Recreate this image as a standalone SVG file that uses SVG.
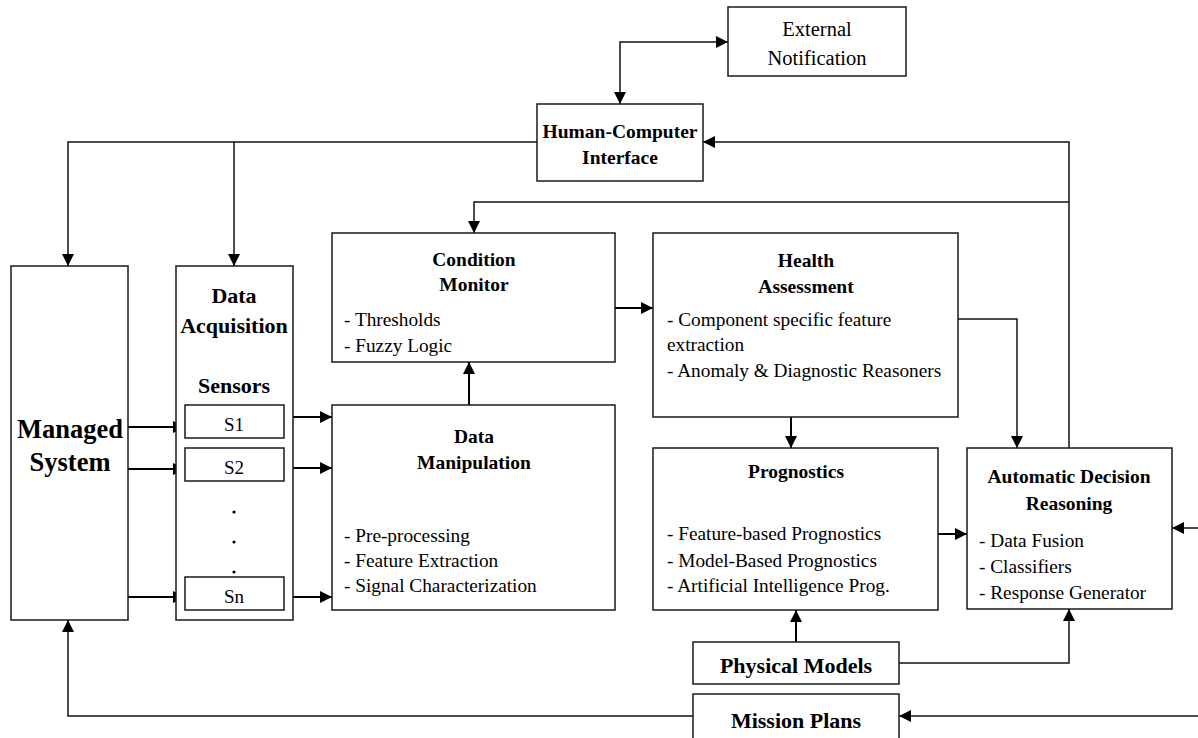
<svg xmlns="http://www.w3.org/2000/svg" width="1198" height="738" viewBox="0 0 1198 738">
<style>
.box{fill:#fff;stroke:#1a1a1a;stroke-width:1.5}
.sbox{fill:#fff;stroke:#1a1a1a;stroke-width:1.5}
.ln{fill:none;stroke:#111;stroke-width:1.5}
.ar{fill:none;stroke:#000;stroke-width:2}
.t{font-family:"Liberation Serif","Times New Roman",serif;fill:#000}
.b{font-weight:bold;font-size:19.5px;text-anchor:middle}
.r{font-size:19.3px}
.c{text-anchor:middle}
</style>
<defs>
<marker id="ah" markerUnits="userSpaceOnUse" markerWidth="12" markerHeight="12" refX="12" refY="6" orient="auto-start-reverse">
<path d="M0,0 L12,6 L0,12 z" fill="#000"/>
</marker>
</defs>
<rect width="1198" height="738" fill="#fff"/>

<g id="connectors">
<path class="ln" d="M620,104 V42 H728" marker-start="url(#ah)" marker-end="url(#ah)"/>
<path class="ln" d="M1069,448 V142 H703" marker-end="url(#ah)"/>
<path class="ln" d="M537,142 H68 V266" marker-end="url(#ah)"/>
<path class="ln" d="M234,142 V266" marker-end="url(#ah)"/>
<path class="ln" d="M1069,202 H474 V233" marker-end="url(#ah)"/>
<path class="ar" d="M469,405 V362" marker-end="url(#ah)"/>
<path class="ar" d="M615,308 H653" marker-end="url(#ah)"/>
<path class="ln" d="M958,319 H1017 V448" marker-end="url(#ah)"/>
<path class="ar" d="M791,417 V448" marker-end="url(#ah)"/>
<path class="ar" d="M938,534 H967" marker-end="url(#ah)"/>
<path class="ln" d="M1198,528 H1172" marker-end="url(#ah)"/>
<path class="ar" d="M796,642 V610" marker-end="url(#ah)"/>
<path class="ln" d="M899,663 H1069 V609" marker-end="url(#ah)"/>
<path class="ln" d="M1198,716 H899" marker-end="url(#ah)"/>
<path class="ln" d="M693,716 H68 V620" marker-end="url(#ah)"/>
<path class="ar" d="M128,427 H185" marker-end="url(#ah)"/>
<path class="ar" d="M128,469 H185" marker-end="url(#ah)"/>
<path class="ar" d="M128,597 H185" marker-end="url(#ah)"/>
<path class="ar" d="M284,417 H332" marker-end="url(#ah)"/>
<path class="ar" d="M284,468 H332" marker-end="url(#ah)"/>
<path class="ar" d="M284,597 H332" marker-end="url(#ah)"/>
</g>

<g id="external-notification">
<rect class="box" x="728" y="7" width="178" height="69"/>
<text class="t c" x="817" y="36" font-size="20.5">External</text>
<text class="t c" x="817" y="65" font-size="20.5">Notification</text>
</g>

<g id="hci">
<rect class="box" x="537" y="104" width="166" height="77"/>
<text class="t b" x="620" y="138">Human-Computer</text>
<text class="t b" x="620" y="164">Interface</text>
</g>

<g id="managed-system">
<rect class="box" x="11" y="266" width="117" height="354"/>
<text class="t c" x="70" y="438" font-size="26.5" font-weight="bold">Managed</text>
<text class="t c" x="70" y="471" font-size="26.5" font-weight="bold">System</text>
</g>

<g id="data-acquisition">
<rect class="box" x="176" y="266" width="117" height="354"/>
<text class="t c" x="234" y="303" font-size="22" font-weight="bold">Data</text>
<text class="t c" x="234" y="333" font-size="22" font-weight="bold">Acquisition</text>
<text class="t c" x="234" y="393" font-size="22" font-weight="bold">Sensors</text>
<circle cx="234" cy="512" r="1.6" fill="#000"/>
<circle cx="234" cy="542" r="1.6" fill="#000"/>
<circle cx="234" cy="572" r="1.6" fill="#000"/>
</g>

<g id="s1">
<rect class="sbox" x="185" y="405" width="99" height="33"/>
<text class="t c" x="234" y="431" font-size="19">S1</text>
</g>
<g id="s2">
<rect class="sbox" x="185" y="448" width="99" height="33"/>
<text class="t c" x="234" y="474" font-size="19">S2</text>
</g>
<g id="sn">
<rect class="sbox" x="185" y="577" width="99" height="33"/>
<text class="t c" x="234" y="603" font-size="19">Sn</text>
</g>

<g id="condition-monitor">
<rect class="box" x="332" y="233" width="283" height="129"/>
<text class="t b" x="474" y="266">Condition</text>
<text class="t b" x="474" y="291">Monitor</text>
<text class="t r" x="344" y="326">- Thresholds</text>
<text class="t r" x="344" y="352">- Fuzzy Logic</text>
</g>

<g id="data-manipulation">
<rect class="box" x="332" y="405" width="283" height="205"/>
<text class="t b" x="474" y="443">Data</text>
<text class="t b" x="474" y="469">Manipulation</text>
<text class="t r" x="344" y="542">- Pre-processing</text>
<text class="t r" x="344" y="567">- Feature Extraction</text>
<text class="t r" x="344" y="592">- Signal Characterization</text>
</g>

<g id="health-assessment">
<rect class="box" x="653" y="233" width="305" height="184"/>
<text class="t b" x="806" y="267">Health</text>
<text class="t b" x="806" y="293">Assessment</text>
<text class="t r" x="667" y="326">- Component specific feature</text>
<text class="t r" x="667" y="351">extraction</text>
<text class="t r" x="667" y="377">- Anomaly &amp; Diagnostic Reasoners</text>
</g>

<g id="prognostics">
<rect class="box" x="653" y="448" width="285" height="162"/>
<text class="t b" x="796" y="478">Prognostics</text>
<text class="t r" x="667" y="540">- Feature-based Prognostics</text>
<text class="t r" x="667" y="567">- Model-Based Prognostics</text>
<text class="t r" x="667" y="592">- Artificial Intelligence Prog.</text>
</g>

<g id="automatic-decision-reasoning">
<rect class="box" x="967" y="448" width="205" height="161"/>
<text class="t b" x="1069" y="483">Automatic Decision</text>
<text class="t b" x="1069" y="510">Reasoning</text>
<text class="t r" x="979" y="547">- Data Fusion</text>
<text class="t r" x="979" y="573">- Classifiers</text>
<text class="t r" x="979" y="599">- Response Generator</text>
</g>

<g id="physical-models">
<rect class="box" x="693" y="642" width="206" height="42"/>
<text class="t c" x="796" y="673" font-size="22" font-weight="bold">Physical Models</text>
</g>

<g id="mission-plans">
<rect class="box" x="693" y="694" width="206" height="50"/>
<text class="t c" x="796" y="728" font-size="22" font-weight="bold">Mission Plans</text>
</g>
</svg>
